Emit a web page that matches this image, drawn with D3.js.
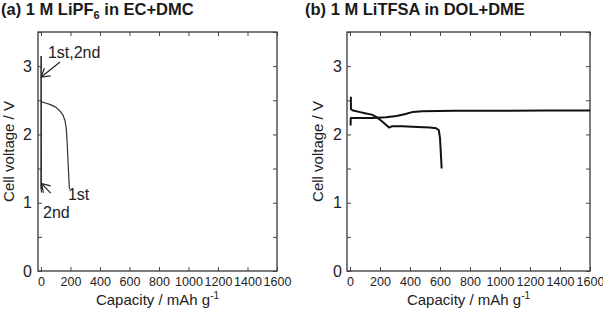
<!DOCTYPE html>
<html>
<head>
<meta charset="utf-8">
<script src="https://cdn.jsdelivr.net/npm/d3@7"></script>
<style>
  body { margin: 0; background: #fff; }
  svg { display: block; font-family: "Liberation Sans", Arial, sans-serif; }
  .axis text { fill: #222; }
  .axis path, .axis line { stroke: #444; }
</style>
</head>
<body>
<svg id="chart" width="603" height="311"></svg>
<script>
// tick values
const xTicks = d3.range(0, 1601, 200);
const yTicks = d3.range(0, 3.51, 0.5);

// (a) 1 M LiPF6 in EC+DMC  [capacity mAh/g, voltage V]
const aDischarge1 = [[0, 2.48], [30, 2.46], [60, 2.44], [100, 2.40], [130, 2.34], [150, 2.28],
  [163, 2.20], [171, 2.10], [176, 1.95], [181, 1.72], [187, 1.45], [193, 1.20]];
const aCharge1 = [[0, 1.20], [1, 2.40], [2, 3.15]];
const aDischarge2 = [[1, 3.15], [2, 2.45], [3, 1.15]];

// annotations: text anchor and arrow from/to, data coords
const aLabels = [
  { text: '1st,2nd', at: [47, 3.12] },
  { text: '2nd', at: [14, 0.77] },
  { text: '1st', at: [183, 1.04] }
];
const aArrows = [
  { from: [129, 3.06], to: [2, 2.84] },
  { from: [66, 1.14], to: [4, 1.28] }
];

// (b) 1 M LiTFSA in DOL+DME
const bDischarge1 = [[6, 2.55], [6, 2.37], [20, 2.35], [60, 2.33], [100, 2.31], [145, 2.29],
  [180, 2.25], [215, 2.19], [245, 2.13], [260, 2.10], [280, 2.12], [350, 2.12], [450, 2.11],
  [530, 2.10], [575, 2.09], [592, 2.06], [600, 1.95], [605, 1.75], [611, 1.50]];
const bCharge1 = [[4, 2.13], [5, 2.24], [60, 2.24], [150, 2.24], [240, 2.25], [310, 2.27],
  [370, 2.30], [420, 2.33], [480, 2.34], [700, 2.345], [1000, 2.345], [1300, 2.35], [1600, 2.35]];

const svg = d3.select('#chart');

const defs = svg.append('defs');
defs.append('marker')
  .attr('id', 'arrow')
  .attr('markerUnits', 'userSpaceOnUse')
  .attr('viewBox', '-9 -6 10 12')
  .attr('markerWidth', 10)
  .attr('markerHeight', 12)
  .attr('refX', 0)
  .attr('refY', 0)
  .attr('orient', 'auto')
  .append('path')
    .attr('d', 'M-8,-5L0,0L-8,5')
    .attr('fill', 'none')
    .attr('stroke', '#222')
    .attr('stroke-width', 1.2);

function drawPanel(opts) {
  const { left, right, top, bottom } = opts;

  const x = d3.scaleLinear().domain([-20, 1600]).range([left, right]);
  const y = d3.scaleLinear().domain([0, 3.5]).range([bottom, top]);

  const g = svg.append('g');

  // frame
  g.append('rect')
    .attr('x', left).attr('y', top)
    .attr('width', right - left).attr('height', bottom - top)
    .attr('fill', 'none').attr('stroke', '#444').attr('stroke-width', 1.4);

  // bottom axis
  g.append('g')
    .attr('class', 'axis')
    .attr('transform', `translate(0, ${bottom})`)
    .call(d3.axisBottom(x).tickValues(xTicks).tickSize(-4).tickPadding(6).tickFormat(d3.format('d')))
    .call(a => a.select('.domain').remove())
    .call(a => a.selectAll('text').attr('font-size', 12.5).attr('font-family', null));

  // top ticks
  g.append('g')
    .attr('class', 'axis')
    .attr('transform', `translate(0, ${top})`)
    .call(d3.axisTop(x).tickValues(xTicks).tickSize(-4).tickFormat(''))
    .call(a => a.select('.domain').remove());

  // left axis
  g.append('g')
    .attr('class', 'axis')
    .attr('transform', `translate(${left}, 0)`)
    .call(d3.axisLeft(y).tickValues(yTicks).tickSize(-4).tickPadding(opts.yPad)
      .tickFormat(d => (d % 1 === 0 ? d : '')))
    .call(a => a.select('.domain').remove())
    .call(a => a.selectAll('text').attr('font-size', 16).attr('font-family', null));

  // right ticks
  g.append('g')
    .attr('class', 'axis')
    .attr('transform', `translate(${right}, 0)`)
    .call(d3.axisRight(y).tickValues(yTicks).tickSize(-4).tickFormat(''))
    .call(a => a.select('.domain').remove());

  // title
  svg.append('text')
    .attr('x', opts.titleX).attr('y', 15)
    .attr('font-size', 16.5).attr('font-weight', 'bold').attr('fill', '#1a1a1a')
    .call(t => opts.title(t));

  // axis titles
  const xt = svg.append('text')
    .attr('x', (left + right) / 2).attr('y', 305)
    .attr('text-anchor', 'middle').attr('font-size', 15).attr('fill', '#222')
    .text('Capacity / mAh g');
  xt.append('tspan').attr('dy', -6).attr('font-size', 10).text('-1');

  svg.append('text')
    .attr('transform', `translate(${left - 24}, ${(top + bottom) / 2}) rotate(-90)`)
    .attr('text-anchor', 'middle').attr('font-size', 15).attr('fill', '#222')
    .text('Cell voltage / V');

  const line = d3.line().x(d => x(d[0])).y(d => y(d[1]));

  opts.series.forEach(s => {
    g.append('path')
      .datum(s)
      .attr('d', line)
      .attr('fill', 'none')
      .attr('stroke', opts.lineColor)
      .attr('stroke-width', opts.lineWidth)
      .attr('stroke-linejoin', 'round');
  });

  (opts.labels || []).forEach(l => {
    g.append('text')
      .attr('x', x(l.at[0])).attr('y', y(l.at[1]))
      .attr('font-size', 16).attr('fill', '#222')
      .text(l.text);
  });

  (opts.arrows || []).forEach(a => {
    g.append('line')
      .attr('x1', x(a.from[0])).attr('y1', y(a.from[1]))
      .attr('x2', x(a.to[0])).attr('y2', y(a.to[1]))
      .attr('stroke', '#222').attr('stroke-width', 1.2)
      .attr('marker-end', 'url(#arrow)');
  });
}

drawPanel({
  left: 38, right: 277, top: 32, bottom: 271, yPad: 6, titleX: 1,
  title: t => {
    t.append('tspan').text('(a) 1 M LiPF');
    t.append('tspan').attr('font-size', 11).attr('dy', 4).text('6');
    t.append('tspan').attr('dy', -4).text(' in EC+DMC');
  },
  series: [aDischarge1, aCharge1, aDischarge2],
  lineColor: '#333', lineWidth: 1.2,
  labels: aLabels, arrows: aArrows
});

drawPanel({
  left: 347, right: 590, top: 32, bottom: 271, yPad: 5, titleX: 305,
  title: t => t.text('(b) 1 M LiTFSA in DOL+DME'),
  series: [bDischarge1, bCharge1],
  lineColor: '#111', lineWidth: 2
});
</script>
</body>
</html>
